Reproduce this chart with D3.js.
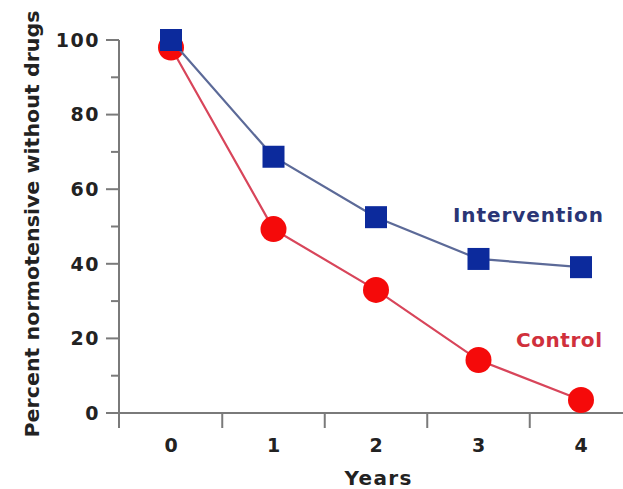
<!DOCTYPE html>
<html><head><meta charset="utf-8">
<script src="https://cdn.jsdelivr.net/npm/d3@7"></script>
<style>
html,body{margin:0;padding:0;background:#fff;}
svg{display:block;}
text{font-family:"DejaVu Sans",Verdana,sans-serif;font-weight:bold;}
</style></head>
<body>
<script>
const years = [0, 1, 2, 3, 4];
const intervention = [100, 68.7, 52.5, 41.3, 39.1];
const control = [98, 49.3, 33, 14.2, 3.5];
const yTicks = [0, 20, 40, 60, 80, 100];
const yMinorTicks = [10, 30, 50, 70, 90];
const xMinorTicks = [0.5, 1.5, 2.5, 3.5];

const W = 623, H = 489;
const svg = d3.select("body").append("svg").attr("width", W).attr("height", H);

const x = d3.scaleLinear().domain([0, 4]).range([171, 581]);
const y = d3.scaleLinear().domain([0, 100]).range([413, 40]);
const axisColor = "#7a7a7a";

svg.append("line").attr("x1", 119).attr("x2", 119).attr("y1", 40).attr("y2", 428)
  .attr("stroke", axisColor).attr("stroke-width", 2);
svg.append("line").attr("x1", 106).attr("x2", W).attr("y1", 413).attr("y2", 413)
  .attr("stroke", axisColor).attr("stroke-width", 2);

svg.selectAll(".ymaj").data(yTicks).enter().append("line")
  .attr("x1", 106).attr("x2", 119).attr("y1", d => y(d)).attr("y2", d => y(d))
  .attr("stroke", axisColor).attr("stroke-width", 2);
svg.selectAll(".ymin").data(yMinorTicks).enter().append("line")
  .attr("x1", 111).attr("x2", 119).attr("y1", d => y(d)).attr("y2", d => y(d))
  .attr("stroke", axisColor).attr("stroke-width", 2);
svg.selectAll(".ylab").data(yTicks).enter().append("text")
  .attr("x", 100).attr("y", d => y(d)).attr("dy", "0.36em")
  .attr("text-anchor", "end").attr("font-size", 19).attr("letter-spacing", 1.5).attr("fill", "#222")
  .text(d => d);

svg.selectAll(".xt").data(xMinorTicks).enter().append("line")
  .attr("x1", d => x(d)).attr("x2", d => x(d)).attr("y1", 413).attr("y2", 428)
  .attr("stroke", axisColor).attr("stroke-width", 2);
svg.selectAll(".xlab").data(years).enter().append("text")
  .attr("x", d => x(d)).attr("y", 452)
  .attr("text-anchor", "middle").attr("font-size", 19).attr("fill", "#222")
  .text(d => d);

svg.append("text").attr("x", 378).attr("y", 485).attr("text-anchor", "middle")
  .attr("font-size", 20).attr("fill", "#222")
  .attr("textLength", 67).attr("lengthAdjust", "spacing").text("Years");

svg.append("text").attr("transform", "translate(39,224) rotate(-90)")
  .attr("text-anchor", "middle").attr("font-size", 19).attr("fill", "#222")
  .attr("textLength", 427).attr("lengthAdjust", "spacingAndGlyphs")
  .text("Percent normotensive without drugs");

const line = d3.line().x((d, i) => x(years[i])).y(d => y(d));

svg.append("path").datum(control).attr("d", line).attr("fill", "none")
  .attr("stroke", "#d8455a").attr("stroke-width", 2.2);
svg.selectAll(".cpt").data(control).enter().append("circle")
  .attr("cx", (d, i) => x(years[i])).attr("cy", d => y(d)).attr("r", 13)
  .attr("fill", "#f50a0a");

svg.append("path").datum(intervention).attr("d", line).attr("fill", "none")
  .attr("stroke", "#5c6a98").attr("stroke-width", 2.2);
svg.selectAll(".ipt").data(intervention).enter().append("rect")
  .attr("x", (d, i) => x(years[i]) - 11).attr("y", d => y(d) - 11)
  .attr("width", 22).attr("height", 22).attr("fill", "#0c2a9c");

svg.append("text").attr("x", 453).attr("y", 222)
  .attr("font-size", 20).attr("fill", "#2a3575")
  .attr("textLength", 150).attr("lengthAdjust", "spacing").text("Intervention");
svg.append("text").attr("x", 516).attr("y", 347)
  .attr("font-size", 20).attr("fill", "#d0303c")
  .attr("textLength", 86).attr("lengthAdjust", "spacing").text("Control");
</script>
</body></html>
